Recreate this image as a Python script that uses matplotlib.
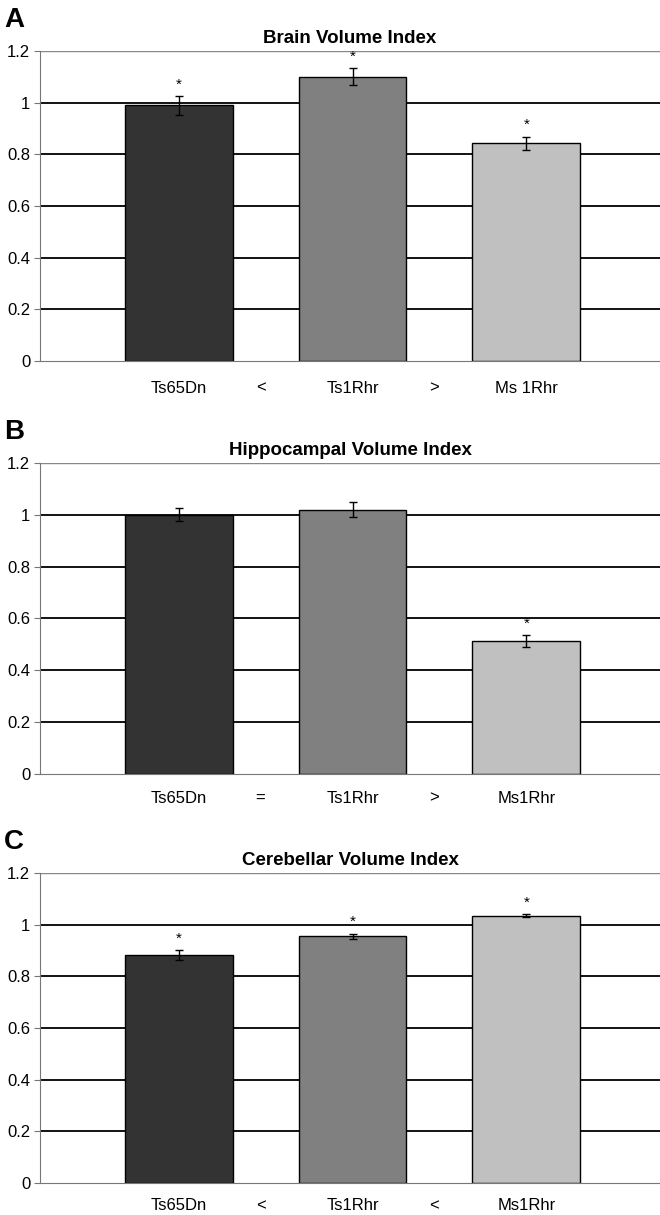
import matplotlib.pyplot as plt
from matplotlib import font_manager

# data
strains = ['Ts65Dn', 'Ts1Rhr', 'Ms1Rhr']
colors = ['#333333', '#808080', '#c0c0c0']

brain = [0.99, 1.10, 0.843]
brain_err = [0.036, 0.033, 0.026]
brain_star = [True, True, True]
brain_rel = ['<', '>']

hippo = [1.00, 1.02, 0.512]
hippo_err = [0.025, 0.03, 0.024]
hippo_star = [False, False, True]
hippo_rel = ['=', '>']

cereb = [0.882, 0.955, 1.035]
cereb_err = [0.02, 0.01, 0.006]
cereb_star = [True, True, True]
cereb_rel = ['<', '<']

names = [f.name for f in font_manager.fontManager.ttflist]
narrow = 'Liberation Sans Narrow' if 'Liberation Sans Narrow' in names else 'Liberation Sans'
plt.rcParams['font.family'] = [narrow, 'DejaVu Sans']

fig = plt.figure(figsize=(6.6, 12.15), dpi=100)

panels = [
    ('A', 'Brain Volume Index', brain, brain_err, brain_star, brain_rel,
     ['Ts65Dn', 'Ts1Rhr', 'Ms 1Rhr'], [0.0606, 0.7029, 0.9394, 0.2551], -0.105),
    ('B', 'Hippocampal Volume Index', hippo, hippo_err, hippo_star, hippo_rel,
     ['Ts65Dn', 'Ts1Rhr', 'Ms1Rhr'], [0.0606, 0.3630, 0.9394, 0.2560], -0.093),
    ('C', 'Cerebellar Volume Index', cereb, cereb_err, cereb_star, cereb_rel,
     ['Ts65Dn', 'Ts1Rhr', 'Ms1Rhr'], [0.0606, 0.0263, 0.9394, 0.2552], -0.086),
]

for letter, title, vals, errs, stars, rels, labels, pos, laby in panels:
    ax = fig.add_axes(pos)
    x = list(range(len(vals)))
    for yv in [0.2, 0.4, 0.6, 0.8, 1.0]:
        ax.axhline(yv, color='black', lw=1.3, zorder=1)
    ax.axhline(1.2, color='#888888', lw=1.0, zorder=1)
    ax.bar(x, vals, width=0.62, color=colors, edgecolor='black', linewidth=1.0, zorder=2)
    ax.errorbar(x, vals, yerr=errs, fmt='none', ecolor='black', elinewidth=1.0,
                capsize=3, capthick=1.0, zorder=3)
    for xi, v, e, s in zip(x, vals, errs, stars):
        if s:
            ax.text(xi, v + e + 0.045, '*', ha='center', va='center', fontsize=11)
    ax.set_xlim(-0.80, 2.77)
    ax.set_ylim(0, 1.2)
    ax.set_yticks([0, 0.2, 0.4, 0.6, 0.8, 1.0, 1.2])
    ax.set_yticklabels(['0', '0.2', '0.4', '0.6', '0.8', '1', '1.2'], fontsize=12)
    ax.set_xticks([])
    for sp in ['top', 'right']:
        ax.spines[sp].set_visible(False)
    ax.spines['left'].set_color('#777777')
    ax.spines['bottom'].set_color('#777777')
    ax.tick_params(axis='y', length=4, color='#777777', pad=3)
    ax.set_title(title, fontsize=13.5, fontweight='bold', x=0.5, pad=6)
    # group labels with relation signs
    for xi, lab in zip(x, labels):
        ax.text(xi, laby, lab, ha='center', va='center', fontsize=12)
    for i, r in enumerate(rels):
        ax.text(i + 0.47, laby, r, ha='center', va='center', fontsize=12)
    ax.text(-0.058, 1.10, letter, transform=ax.transAxes, fontsize=20,
            fontweight='bold', ha='left', va='center')

fig.savefig('out.png', dpi=100)
